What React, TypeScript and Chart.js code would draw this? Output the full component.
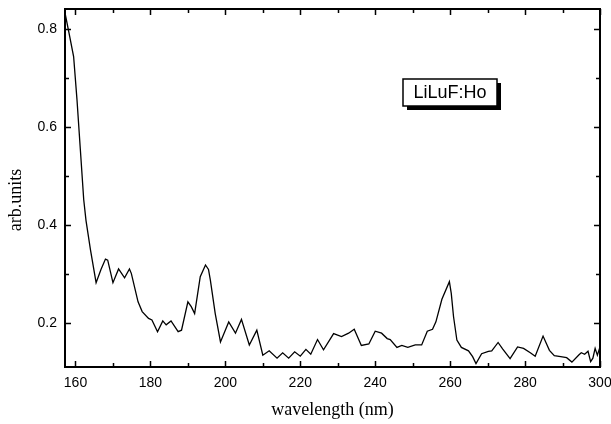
import React, { useEffect, useRef } from "react";
import { Chart, registerables } from "chart.js";

Chart.register(...registerables);

const wavelengths = [
  157.2, 158.2, 159.5, 160.4, 161.3, 162.2, 162.8, 164.0, 165.5, 166.8,
  168.0, 168.6, 170.0, 171.5, 173.1, 174.4, 174.9, 176.7, 177.8, 179.5,
  180.4, 181.9, 183.3, 184.2, 185.5, 187.4, 188.3, 190.0, 190.9, 191.8,
  193.3, 194.7, 195.5, 196.0, 197.3, 198.7, 200.9, 202.7, 204.3, 206.4,
  208.4, 210.0, 211.7, 213.8, 215.3, 216.9, 218.5, 220.0, 221.5, 222.8,
  224.6, 226.2, 228.9, 231.0, 232.9, 234.4, 236.3, 238.3, 240.0, 241.7,
  243.2, 244.0, 245.8, 247.1, 248.7, 250.7, 252.4, 253.9, 255.3, 256.2,
  257.8, 259.8, 260.3, 260.9, 261.8, 263.0, 264.9, 266.0, 266.9, 268.4,
  270.2, 271.1, 272.8, 274.0, 276.0, 278.0, 279.6, 281.4, 282.7, 284.8,
  286.5, 287.8, 289.5, 291.1, 292.5, 294.4, 295.0, 295.9, 296.8, 297.5,
  298.1, 298.7, 299.3, 300.0,
];

const intensities = [
  0.833, 0.795, 0.744, 0.656, 0.554, 0.452, 0.41, 0.35, 0.283, 0.31,
  0.331, 0.329, 0.283, 0.311, 0.293, 0.311, 0.302, 0.244, 0.224, 0.21,
  0.207, 0.183, 0.205, 0.197, 0.205, 0.183, 0.186, 0.244, 0.234, 0.22,
  0.295, 0.319, 0.31, 0.288, 0.22, 0.162, 0.203, 0.18, 0.208, 0.156,
  0.186, 0.135, 0.144, 0.129, 0.14, 0.129, 0.142, 0.133, 0.147, 0.137,
  0.167, 0.146, 0.179, 0.173, 0.18, 0.188, 0.155, 0.158, 0.184, 0.18,
  0.169, 0.167, 0.151, 0.155, 0.151, 0.156, 0.156, 0.184, 0.188, 0.203,
  0.249, 0.285, 0.261, 0.214, 0.166, 0.151, 0.144, 0.132, 0.118, 0.138,
  0.143, 0.144, 0.161, 0.148, 0.128, 0.152, 0.149, 0.14, 0.133, 0.174,
  0.145, 0.134, 0.132, 0.13, 0.121, 0.136, 0.14, 0.137, 0.143, 0.122,
  0.129, 0.149, 0.135, 0.152,
];

const xMajorTicks = [160, 180, 200, 220, 240, 260, 280, 300];
const xMinorTicks = [170, 190, 210, 230, 250, 270, 290];
const yMajorTicks = [0.2, 0.4, 0.6, 0.8];
const yMinorTicks = [0.3, 0.5, 0.7];

const seriesLabel = "LiLuF:Ho";
const xTitle = "wavelength (nm)";
const yTitle = "arb.units";

const X_MIN = 157.2;
const X_MAX = 300;
const Y_MIN = 0.111;
const Y_MAX = 0.841;

const framePlugin = {
  id: "frameAndTicks",
  afterDraw(chart: any) {
    const { ctx, chartArea: a, scales } = chart;
    const xs = scales.x;
    const ys = scales.y;
    ctx.save();
    ctx.strokeStyle = "#000";
    ctx.lineWidth = 1.5;
    const drawX = (v: number, len: number) => {
      const px = Math.round(xs.getPixelForValue(v)) + 0.5;
      ctx.beginPath();
      ctx.moveTo(px, a.bottom);
      ctx.lineTo(px, a.bottom - len);
      ctx.moveTo(px, a.top);
      ctx.lineTo(px, a.top + len);
      ctx.stroke();
    };
    const drawY = (v: number, len: number) => {
      const py = Math.round(ys.getPixelForValue(v)) + 0.5;
      ctx.beginPath();
      ctx.moveTo(a.left, py);
      ctx.lineTo(a.left + len, py);
      ctx.moveTo(a.right, py);
      ctx.lineTo(a.right - len, py);
      ctx.stroke();
    };
    xMajorTicks.forEach((v) => drawX(v, 6));
    xMinorTicks.forEach((v) => drawX(v, 4));
    yMajorTicks.forEach((v) => drawY(v, 6));
    yMinorTicks.forEach((v) => drawY(v, 4));

    ctx.lineWidth = 2;
    ctx.strokeRect(a.left, a.top, a.right - a.left, a.bottom - a.top);

    // label box with shadow
    const bx = 403, by = 79, bw = 94, bh = 27;
    ctx.fillStyle = "#000";
    ctx.fillRect(bx + 4, by + 4, bw, bh);
    ctx.fillStyle = "#fff";
    ctx.fillRect(bx, by, bw, bh);
    ctx.lineWidth = 1.5;
    ctx.strokeRect(bx, by, bw, bh);
    ctx.fillStyle = "#000";
    ctx.font = "18px 'Liberation Sans', Arial, sans-serif";
    ctx.textAlign = "center";
    ctx.textBaseline = "middle";
    ctx.fillText(seriesLabel, bx + bw / 2, by + bh / 2 + 1);

    // axis titles
    ctx.font = "18px 'Liberation Serif', 'Times New Roman', serif";
    ctx.fillText(xTitle, (a.left + a.right) / 2, a.bottom + 43);
    ctx.translate(16, (a.top + a.bottom) / 2 + 12);
    ctx.rotate(-Math.PI / 2);
    ctx.fillText(yTitle, 0, 0);
    ctx.restore();
  },
};

const zeroPadding = (scale: any) => {
  scale.paddingTop = 0;
  scale.paddingBottom = 0;
  scale.paddingLeft = 0;
  scale.paddingRight = 0;
};

export default function App() {
  const ref = useRef<HTMLCanvasElement | null>(null);

  useEffect(() => {
    if (!ref.current) return;
    const points = wavelengths.map((w, i) => ({ x: w, y: intensities[i] }));
    const tickFont = { family: "'Liberation Sans', Arial, sans-serif", size: 14 };
    const chart = new Chart(ref.current, {
      type: "line",
      data: {
        datasets: [
          {
            label: seriesLabel,
            data: points,
            borderColor: "#000",
            borderWidth: 1.3,
            pointRadius: 0,
            tension: 0,
            fill: false,
          },
        ],
      },
      options: {
        responsive: false,
        animation: false,
        maintainAspectRatio: false,
        layout: { padding: { left: 0, top: 9, right: 11, bottom: 0 } },
        plugins: {
          legend: { display: false },
          tooltip: { enabled: false },
          title: { display: false },
        },
        scales: {
          x: {
            type: "linear",
            min: X_MIN,
            max: X_MAX,
            grid: { display: false, drawTicks: false },
            border: { display: false },
            afterBuildTicks: (scale: any) => {
              scale.ticks = xMajorTicks.map((v) => ({ value: v }));
            },
            afterFit: (scale: any) => {
              scale.height = 57;
              zeroPadding(scale);
            },
            ticks: {
              color: "#000",
              font: tickFont,
              padding: 8,
              maxRotation: 0,
              callback: (v: any) => String(v),
            },
          },
          y: {
            type: "linear",
            min: Y_MIN,
            max: Y_MAX,
            grid: { display: false, drawTicks: false },
            border: { display: false },
            afterBuildTicks: (scale: any) => {
              scale.ticks = yMajorTicks.map((v) => ({ value: v }));
            },
            afterFit: (scale: any) => {
              scale.width = 65;
              zeroPadding(scale);
            },
            ticks: {
              color: "#000",
              font: tickFont,
              padding: 8,
              callback: (v: any) => Number(v).toFixed(1),
            },
          },
        },
      },
      plugins: [framePlugin],
    });
    return () => chart.destroy();
  }, []);

  return (
    <div style={{ position: "absolute", left: 0, top: 0, width: 611, height: 424, background: "#fff" }}>
      <canvas ref={ref} width={611} height={424} style={{ width: 611, height: 424 }} />
    </div>
  );
}
